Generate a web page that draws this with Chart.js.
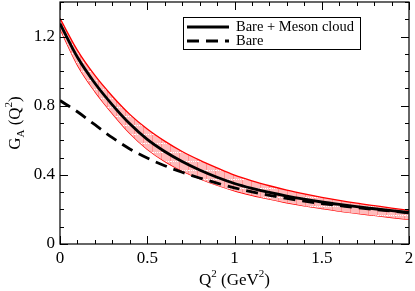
<!DOCTYPE html>
<html>
<head>
<meta charset="utf-8">
<script src="https://cdn.jsdelivr.net/npm/chart.js@4.4.1/dist/chart.umd.min.js"></script>
<style>
  html, body { margin: 0; padding: 0; background: #fff; }
  #wrap { width: 415px; height: 291px; }
</style>
</head>
<body>
<div id="wrap"><canvas id="myChart" width="415" height="291"></canvas></div>
<script>
// Dados
const q2 = [0, 0.1, 0.2, 0.3, 0.4, 0.5, 0.6, 0.7, 0.8, 0.9, 1.0, 1.1, 1.2, 1.3, 1.4, 1.5, 1.6, 1.7, 1.8, 1.9, 2.0];
const bareMeson = [1.275, 1.08, 0.93, 0.805, 0.695, 0.605, 0.535, 0.477, 0.428, 0.386, 0.35, 0.322, 0.298, 0.277, 0.259, 0.243, 0.229, 0.216, 0.204, 0.193, 0.183];
const bandUpper = [1.305, 1.12, 0.975, 0.855, 0.75, 0.665, 0.595, 0.535, 0.485, 0.44, 0.398, 0.365, 0.337, 0.312, 0.29, 0.27, 0.252, 0.236, 0.222, 0.208, 0.195];
const bandLower = [1.245, 1.035, 0.882, 0.755, 0.64, 0.548, 0.478, 0.423, 0.378, 0.34, 0.308, 0.282, 0.259, 0.238, 0.22, 0.205, 0.19, 0.177, 0.165, 0.153, 0.142];
const bare = [0.83, 0.765, 0.69, 0.615, 0.55, 0.497, 0.453, 0.415, 0.382, 0.352, 0.325, 0.302, 0.282, 0.264, 0.248, 0.234, 0.222, 0.21, 0.2, 0.19, 0.18];

const xTicks = [0, 0.5, 1, 1.5, 2];
const xTickLabels = ['0', '0.5', '1', '1.5', '2'];
const yTicks = [0, 0.4, 0.8, 1.2];
const yTickLabels = ['0', '0.4', '0.8', '1.2'];
const legendLabels = ['Bare + Meson cloud', 'Bare'];

const pts = arr => arr.map((v, i) => ({ x: q2[i], y: v }));

// padrao hachurado da banda (estilo xmgrace)
function hatch() {
    const c = document.createElement('canvas');
    c.width = 9; c.height = 9;
    const g = c.getContext('2d');
    g.fillStyle = '#ffbcbc';
    g.fillRect(0, 0, 9, 9);
    g.fillStyle = '#ff9090';
    g.fillRect(8, 0, 1, 9);
    g.fillStyle = '#ffffff';
    for (let i = 0; i < 9; i += 2) g.fillRect(i, 8, 1, 1);
    return g.createPattern(c, 'repeat');
}

const serif = '"Liberation Serif", "DejaVu Serif", serif';
const dash = [12, 7];

// eixos com ticks para dentro, titulos e legenda
const decor = {
    id: 'decor',
    afterDraw(chart) {
        const { ctx, chartArea: a, scales: { x, y } } = chart;
        ctx.save();
        ctx.strokeStyle = '#000';
        ctx.lineWidth = 1;
        ctx.beginPath();
        for (let i = 0; i <= 20; i++) {
            const px = Math.round(x.getPixelForValue(i / 10)) + 0.5;
            const len = i % 5 === 0 ? 8 : 4;
            ctx.moveTo(px, a.bottom); ctx.lineTo(px, a.bottom - len);
            ctx.moveTo(px, a.top); ctx.lineTo(px, a.top + len);
        }
        for (let i = 0; i <= 14; i++) {
            const py = Math.round(y.getPixelForValue(i / 10)) + 0.5;
            const len = i % 4 === 0 ? 8 : 4;
            ctx.moveTo(a.left, py); ctx.lineTo(a.left + len, py);
            ctx.moveTo(a.right, py); ctx.lineTo(a.right - len, py);
        }
        ctx.stroke();
        ctx.lineWidth = 1.2;
        ctx.strokeRect(a.left, a.top, a.right - a.left, a.bottom - a.top);

        // titulo eixo x: Q^2 (GeV^2)
        ctx.fillStyle = '#000';
        ctx.textBaseline = 'alphabetic';
        const big = '17px ' + serif, small = '11px ' + serif;
        const parts = [['Q', big, 0], ['2', small, -8], [' (GeV', big, 0], ['2', small, -8], [')', big, 0]];
        let w = 0;
        parts.forEach(p => { ctx.font = p[1]; w += ctx.measureText(p[0]).width; });
        let cx = (a.left + a.right) / 2 - w / 2;
        parts.forEach(p => { ctx.font = p[1]; ctx.fillText(p[0], cx, 285 + p[2]); cx += ctx.measureText(p[0]).width; });

        // titulo eixo y: G_A (Q^2)
        ctx.translate(20, (a.top + a.bottom) / 2);
        ctx.rotate(-Math.PI / 2);
        const yparts = [['G', big, 0], ['A', small, 4], [' (Q', big, 0], ['2', small, -8], [')', big, 0]];
        w = 0;
        yparts.forEach(p => { ctx.font = p[1]; w += ctx.measureText(p[0]).width; });
        cx = -w / 2;
        yparts.forEach(p => { ctx.font = p[1]; ctx.fillText(p[0], cx, p[2]); cx += ctx.measureText(p[0]).width; });
        ctx.setTransform(1, 0, 0, 1, 0, 0);

        // legenda
        ctx.lineWidth = 1;
        ctx.strokeRect(183.5, 17.5, 177, 32);
        ctx.lineWidth = 2.8;
        ctx.beginPath(); ctx.moveTo(187, 27); ctx.lineTo(229, 27); ctx.stroke();
        ctx.setLineDash(dash);
        ctx.beginPath(); ctx.moveTo(187, 41); ctx.lineTo(229, 41); ctx.stroke();
        ctx.setLineDash([]);
        ctx.font = '14.5px ' + serif;
        ctx.textBaseline = 'middle';
        ctx.fillText(legendLabels[0], 236, 27);
        ctx.fillText(legendLabels[1], 236, 41);
        ctx.restore();
    }
};

window.onload = function() {
    const ctx = document.getElementById('myChart').getContext('2d');
    new Chart(ctx, {
        type: 'line',
        data: {
            datasets: [
                { label: legendLabels[0], data: pts(bareMeson), borderColor: '#000', borderWidth: 2.8, order: 1 },
                { label: legendLabels[1], data: pts(bare), borderColor: '#000', borderWidth: 2.8, borderDash: dash, order: 2 },
                { label: 'upper', data: pts(bandUpper), borderColor: '#ff0000', borderWidth: 1.3, fill: '+1', backgroundColor: hatch(), order: 3 },
                { label: 'lower', data: pts(bandLower), borderColor: '#ff0000', borderWidth: 1.3, fill: false, order: 4 }
            ]
        },
        options: {
            responsive: false,
            animation: false,
            events: [],
            elements: {
                point: { radius: 0 },
                line: { cubicInterpolationMode: 'monotone' }
            },
            plugins: { legend: { display: false }, tooltip: { enabled: false } },
            layout: { padding: { top: 2, right: 6, left: 0, bottom: 0 } },
            scales: {
                x: {
                    type: 'linear', min: 0, max: 2,
                    afterBuildTicks: s => { s.ticks = xTicks.map(v => ({ value: v })); },
                    afterFit: s => { s.height = 47; s.paddingLeft = 0; s.paddingRight = 0; },
                    ticks: {
                        callback: (v, i) => xTickLabels[i],
                        font: { family: serif, size: 17 }, color: '#000', padding: 4, maxRotation: 0
                    },
                    grid: { display: false, drawTicks: false },
                    border: { display: false }
                },
                y: {
                    type: 'linear', min: 0, max: 1.4,
                    afterBuildTicks: s => { s.ticks = yTicks.map(v => ({ value: v })); },
                    afterFit: s => { s.width = 60; s.paddingTop = 0; s.paddingBottom = 0; },
                    ticks: {
                        callback: (v, i) => yTickLabels[i],
                        font: { family: serif, size: 17 }, color: '#000', padding: 5
                    },
                    grid: { display: false, drawTicks: false },
                    border: { display: false }
                }
            }
        },
        plugins: [decor]
    });
};
</script>
</body>
</html>
